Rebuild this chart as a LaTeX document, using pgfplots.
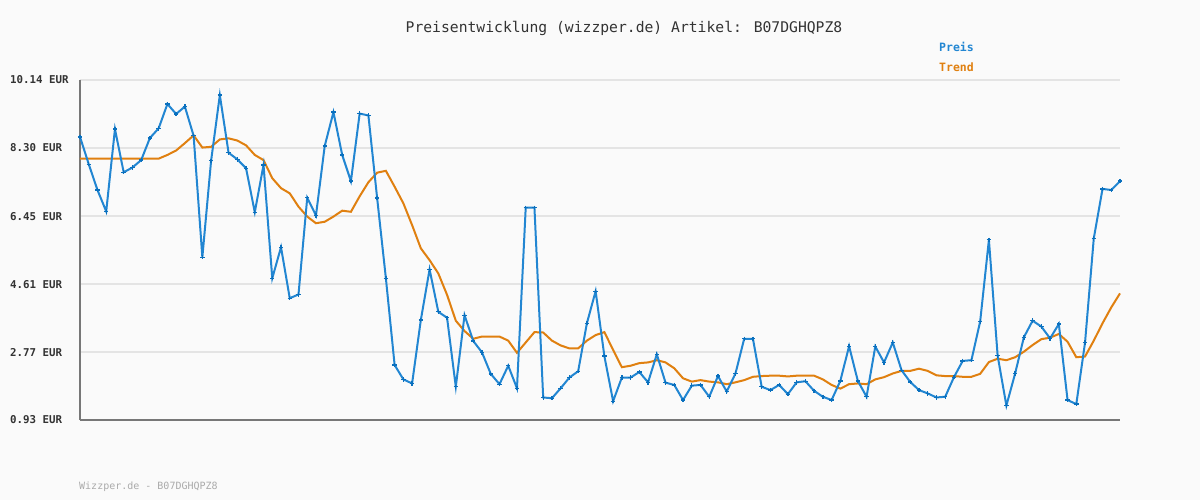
\documentclass[border=0pt]{standalone}
\usepackage{pgfplots}
\pgfplotsset{compat=1.18}
\usepackage{fontspec}
\newfontfamily\mono{DejaVu Sans Mono}
\definecolor{preis}{HTML}{2286D2}
\definecolor{preismark}{HTML}{0A70BE}
\definecolor{trend}{HTML}{E08010}
\definecolor{bg}{HTML}{FAFAFA}
\definecolor{gridc}{HTML}{E4E4E4}
\definecolor{axc}{HTML}{777777}
\definecolor{txt}{HTML}{333333}
\definecolor{foot}{HTML}{AAAAAA}
\begin{document}
\begin{tikzpicture}[x=1pt,y=1pt]
\fill[bg] (0,0) rectangle (1200,500);
\useasboundingbox (0,0) rectangle (1200,500);
\node[font={\mono\fontsize{14.7}{16}\selectfont}, text=txt, anchor=center] at (624,472) {Preisentwicklung (wizzper.de) Artikel: B07DGHQPZ8};
\node[font={\mono\bfseries\fontsize{11.5}{13}\selectfont}, text=preis, anchor=west, inner sep=0] at (939,453) {Preis};
\node[font={\mono\bfseries\fontsize{11.5}{13}\selectfont}, text=trend, anchor=west, inner sep=0] at (939,433) {Trend};
\node[font={\mono\fontsize{10}{12}\selectfont}, text=foot, anchor=west, inner sep=0] at (79,13) {Wizzper.de - B07DGHQPZ8};
\begin{axis}[
  at={(80pt,80pt)}, anchor=south west,
  scale only axis, width=1040pt, height=340pt,
  xmin=0, xmax=119, ymin=0.93, ymax=10.14,
  axis x line*=bottom, axis y line*=left,
  axis line style={axc, line width=2pt},
  xtick=\empty,
  ytick={0.93,2.77,4.61,6.45,8.30,10.14},
  yticklabels={0.93 EUR,2.77 EUR,4.61 EUR,6.45 EUR,8.30 EUR,10.14 EUR},
  yticklabel style={anchor=west, xshift=-70pt, font={\mono\bfseries\fontsize{10.8}{12}\selectfont}, text=txt, inner sep=0},
  major tick length=0pt,
  ymajorgrids, grid style={gridc, line width=2pt},
  clip=false,
]
\addplot[trend, line width=2pt, no marks] table {
x y
0 8.01
1 8.01
2 8.01
3 8.01
4 8.01
5 8.01
6 8.01
7 8.01
8 8.01
9 8.01
10 8.11
11 8.23
12 8.43
13 8.64
14 8.31
15 8.33
16 8.53
17 8.56
18 8.50
19 8.37
20 8.11
21 7.97
22 7.48
23 7.21
24 7.07
25 6.71
26 6.44
27 6.26
28 6.30
29 6.44
30 6.60
31 6.57
32 6.99
33 7.37
34 7.63
35 7.68
36 7.25
37 6.80
38 6.21
39 5.58
40 5.26
41 4.90
42 4.32
43 3.62
44 3.34
45 3.13
46 3.19
47 3.19
48 3.19
49 3.08
50 2.75
51 3.03
52 3.31
53 3.30
54 3.08
55 2.95
56 2.87
57 2.87
58 3.08
59 3.23
60 3.31
61 2.83
62 2.36
63 2.40
64 2.47
65 2.49
66 2.55
67 2.49
68 2.33
69 2.06
70 1.97
71 2.01
72 1.97
73 1.95
74 1.90
75 1.95
76 2.01
77 2.10
78 2.12
79 2.13
80 2.13
81 2.11
82 2.13
83 2.13
84 2.13
85 2.03
86 1.88
87 1.78
88 1.90
89 1.92
90 1.90
91 2.03
92 2.09
93 2.19
94 2.26
95 2.26
96 2.32
97 2.26
98 2.14
99 2.12
100 2.12
101 2.10
102 2.10
103 2.18
104 2.50
105 2.59
106 2.55
107 2.63
108 2.78
109 2.96
110 3.12
111 3.16
112 3.26
113 3.05
114 2.63
115 2.65
116 3.08
117 3.55
118 3.98
119 4.36
};
\addplot[preis, line width=2pt, mark=+, mark size=2.2pt, mark options={preismark, line width=1.3pt}] table {
x y
0 8.60
1 7.86
2 7.16
3 6.58
4 8.81
5 7.64
6 7.77
7 7.97
8 8.57
9 8.83
10 9.49
11 9.22
12 9.42
13 8.63
14 5.34
15 7.95
16 9.73
17 8.17
18 7.99
19 7.75
20 6.56
21 7.84
22 4.77
23 5.61
24 4.23
25 4.33
26 6.95
27 6.47
28 8.35
29 9.27
30 8.11
31 7.40
32 9.23
33 9.18
34 6.94
35 4.77
36 2.42
37 2.03
38 1.92
39 3.64
40 5.01
41 3.86
42 3.70
43 1.83
44 3.77
45 3.07
46 2.76
47 2.18
48 1.90
49 2.40
50 1.79
51 6.68
52 6.68
53 1.54
54 1.52
55 1.79
56 2.08
57 2.25
58 3.55
59 4.42
60 2.66
61 1.44
62 2.08
63 2.08
64 2.23
65 1.95
66 2.71
67 1.94
68 1.88
69 1.47
70 1.86
71 1.88
72 1.56
73 2.12
74 1.70
75 2.19
76 3.13
77 3.13
78 1.83
79 1.74
80 1.88
81 1.63
82 1.95
83 1.98
84 1.72
85 1.56
86 1.47
87 1.99
88 2.93
89 1.99
90 1.56
91 2.92
92 2.49
93 3.03
94 2.28
95 1.96
96 1.74
97 1.65
98 1.54
99 1.56
100 2.09
101 2.53
102 2.55
103 3.60
104 5.81
105 2.67
106 1.32
107 2.19
108 3.17
109 3.62
110 3.46
111 3.14
112 3.53
113 1.47
114 1.36
115 3.03
116 5.85
117 7.19
118 7.16
119 7.40
};
\end{axis}
\end{tikzpicture}
\end{document}
